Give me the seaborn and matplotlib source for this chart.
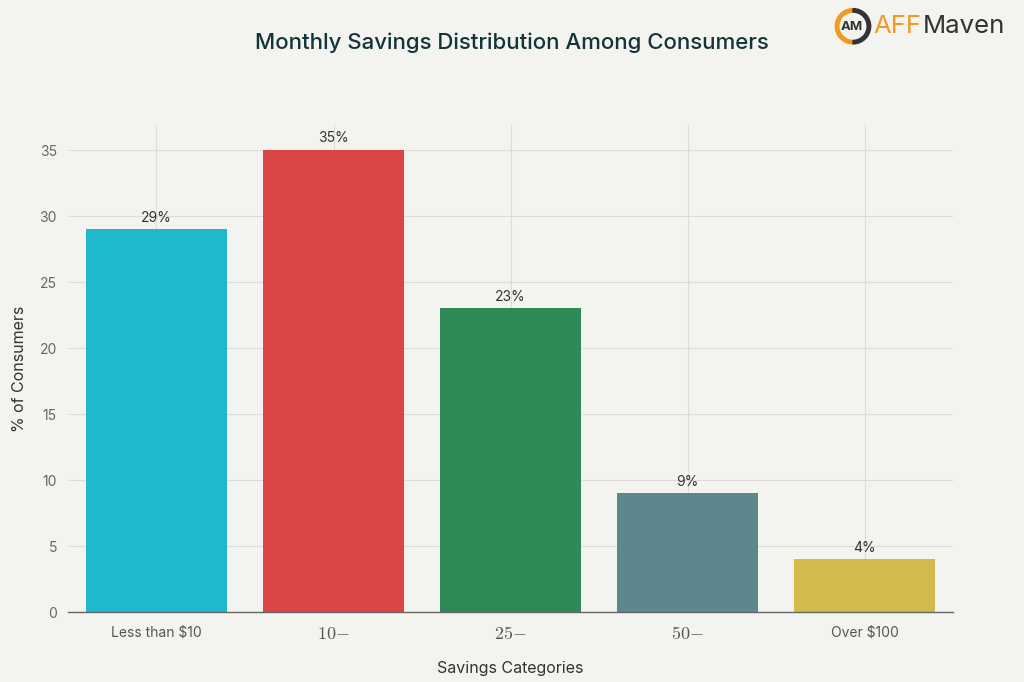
import matplotlib
matplotlib.use("Agg")
import matplotlib.pyplot as plt
import seaborn as sns
import pandas as pd
from matplotlib.patches import Wedge

categories = ["Less than $10", "$10-$25", "$25-$50", "$50-$100", "Over $100"]
values = [29, 35, 23, 9, 4]
tick_labels = ["Less than \\$10", "$10{-}$", "$25{-}$", "$50{-}$", "Over \\$100"]
colors = ["#1FB8CD", "#DB4545", "#2E8B57", "#5D878F", "#D2BA4C"]

sns.set_theme(style="whitegrid")
plt.rcParams["font.family"] = ["Inter", "DejaVu Sans"]
plt.rcParams["mathtext.fontset"] = "cm"

bg = "#F3F3EF"
fig = plt.figure(figsize=(10.24, 6.82), dpi=100, facecolor=bg)
ax = fig.add_axes([0.0664, 0.1026, 0.8643, 0.7141])
ax.set_facecolor(bg)

df = pd.DataFrame({"cat": categories, "val": values})
sns.barplot(data=df, x="cat", y="val", hue="cat", palette=colors, legend=False,
            width=0.8, saturation=1, ax=ax, zorder=3, linewidth=0, edgecolor="none")

for i, v in enumerate(values):
    ax.text(i, v + 0.35, f"{v}%", ha="center", va="bottom", fontsize=10,
            color="#333333", zorder=4)

ax.set_xlim(-0.5, 4.5)
ax.set_ylim(0, 36.9)
ax.set_yticks([0, 5, 10, 15, 20, 25, 30, 35])
ax.set_xticks(range(len(categories)))
ax.set_xticklabels(tick_labels)
for lbl in ax.get_xticklabels():
    if lbl.get_text().startswith("$"):
        lbl.set_fontsize(13)
    else:
        lbl.set_fontsize(10)
    lbl.set_color("#555555")
ax.tick_params(axis="y", labelsize=10, labelcolor="#666666", length=0, pad=8)
ax.tick_params(axis="x", length=4, color="#dddddd", pad=6)

ax.grid(True, color="#DCDCD8", linewidth=0.8, zorder=0)
for s in ["top", "right", "left"]:
    ax.spines[s].set_visible(False)
ax.spines["bottom"].set_color("#666666")
ax.spines["bottom"].set_linewidth(1.0)
ax.spines["bottom"].set_zorder(5)

ax.set_xlabel("Savings Categories", fontsize=11.5, color="#333333")
ax.set_ylabel("% of Consumers", fontsize=11.5, color="#333333")
ax.xaxis.set_label_coords(0.5, -0.10)
ax.yaxis.set_label_coords(-0.046, 0.5)

fig.text(0.5, 0.937, "Monthly Savings Distribution Among Consumers", ha="center",
         va="center", fontsize=16, color="#13343B", fontweight="medium")

# logo
circ_ax = fig.add_axes([0.814, 0.933, 0.038, 0.057])
circ_ax.set_xlim(-1.1, 1.1); circ_ax.set_ylim(-1.1, 1.1)
circ_ax.set_aspect("equal"); circ_ax.axis("off")
circ_ax.add_patch(Wedge((0, 0), 1.0, 90, 270, width=0.2, color="#F29A1F"))
circ_ax.add_patch(Wedge((0, 0), 1.0, -90, 90, width=0.2, color="#333333"))
circ_ax.text(-0.05, -0.05, "AM", ha="center", va="center", fontsize=9.5,
             color="#333333", fontweight="bold")
t1 = fig.text(0.853, 0.961, "AFF", ha="left", va="center", fontsize=18.5,
              color="#F29A1F")
fig.canvas.draw()
bb = t1.get_window_extent().transformed(fig.transFigure.inverted())
fig.text(bb.x1 + 0.001, 0.961, "Maven", ha="left", va="center", fontsize=18.5,
         color="#333333")

fig.savefig("out.png", dpi=100, facecolor=bg)
